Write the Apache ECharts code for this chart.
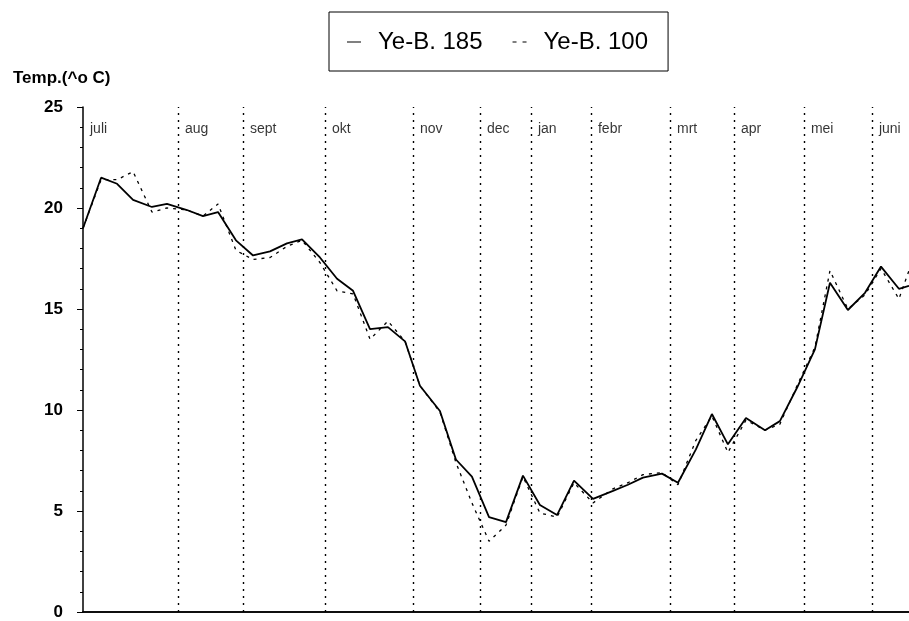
<!DOCTYPE html>
<html>
<head>
<meta charset="utf-8">
<script src="https://cdn.jsdelivr.net/npm/echarts@6/dist/echarts.min.js"></script>
<style>
  html, body { margin: 0; padding: 0; background: #fff; }
  #chart { width: 909px; height: 621px; }
</style>
</head>
<body>
<div id="chart"></div>
<script>
// tijd in weken vanaf begin juli
const weeks = [0, 1.13, 2.13, 3.13, 4.31, 5.25, 6.5, 7.5, 8.44, 9.56, 10.63, 11.69, 12.75, 13.69,
  14.81, 15.88, 16.88, 17.94, 19.06, 20.13, 21.06, 22.31, 23.31, 24.31, 25.38, 26.44, 27.5,
  28.56, 29.63, 30.69, 31.88, 33.13, 34.06, 35.0, 36.19, 37.19, 38.31, 39.31, 40.31, 41.44,
  42.63, 43.56, 44.63, 45.75, 46.69, 47.81, 48.88, 49.88, 51.0, 51.63];
// Ye-B. 185 (getrokken lijn)
const yeB185 = [19.0, 21.5, 21.2, 20.4, 20.05, 20.2, 19.9, 19.6, 19.8, 18.4, 17.65, 17.85, 18.25, 18.45,
  17.55, 16.5, 15.9, 14.0, 14.1, 13.4, 11.2, 9.95, 7.55, 6.7, 4.7, 4.45, 6.75,
  5.3, 4.8, 6.5, 5.6, 6.0, 6.3, 6.65, 6.85, 6.4, 8.05, 9.8, 8.3, 9.6,
  9.0, 9.45, 11.1, 13.0, 16.3, 14.95, 15.8, 17.1, 16.0, 16.15];
// Ye-B. 100 (stippellijn)
const yeB100 = [19.0, 21.4, 21.4, 21.8, 19.8, 20.0, 19.9, 19.6, 20.2, 17.9, 17.45, 17.55, 18.1, 18.4,
  17.3, 15.9, 15.75, 13.5, 14.4, 13.4, 11.2, 9.9, 7.4, 5.4, 3.5, 4.3, 6.7,
  4.9, 4.7, 6.4, 5.4, 6.1, 6.4, 6.8, 6.9, 6.3, 8.5, 9.7, 7.9, 9.5,
  9.0, 9.3, 11.2, 13.1, 16.9, 15.0, 15.7, 17.0, 15.5, 16.9];
// maanden en hun begin (weken)
const months = ['juli', 'aug', 'sept', 'okt', 'nov', 'dec', 'jan', 'febr', 'mrt', 'apr', 'mei', 'juni'];
const monthStart = [0, 5.94, 10.0, 15.13, 20.63, 24.81, 28.0, 31.75, 36.69, 40.69, 45.06, 49.31];
const yTicks = [0, 5, 10, 15, 20, 25];

const xMax = 51.63;
const chart = echarts.init(document.getElementById('chart'), null, { renderer: 'canvas' });

const pairs = arr => weeks.map((w, i) => [w, arr[i]]);

chart.setOption({
  animation: false,
  backgroundColor: '#fff',
  title: {
    text: 'Temp.(^o C)',
    left: 8, top: 65,
    textStyle: { fontFamily: 'Liberation Sans', fontSize: 17, fontWeight: 'bold', color: '#000' }
  },
  legend: {
    left: 329, top: 12,
    padding: [18, 20, 17, 18],
    borderColor: '#000', borderWidth: 1,
    itemWidth: 14, itemHeight: 2, itemGap: 30,
    textStyle: { fontFamily: 'Liberation Sans', fontSize: 24, color: '#000', padding: [0, 0, 0, 12] },
    data: [
      { name: 'Ye-B. 185', icon: 'path://M0,0h14v1h-14z' },
      { name: 'Ye-B. 100', icon: 'path://M0,0h4v1h-4zM10,0h4v1h-4z' }
    ]
  },
  grid: { left: 83, right: 0, top: 107, bottom: 9 },
  xAxis: [{
    type: 'value', min: 0, max: xMax,
    axisLine: { show: true, onZero: false, lineStyle: { color: '#000', width: 1.5 } },
    axisTick: { show: false }, axisLabel: { show: false }, splitLine: { show: false }
  }, {
    type: 'value', min: 0, max: xMax, position: 'top',
    axisLine: { show: true, lineStyle: { color: '#000', width: 1.5 } },
    axisTick: { show: false }, axisLabel: { show: false }, splitLine: { show: false }
  }],
  yAxis: {
    type: 'value', min: yTicks[0], max: yTicks[yTicks.length - 1], interval: 5,
    axisLine: { show: true, lineStyle: { color: '#000', width: 1.5 } },
    axisTick: { show: true, length: 6, lineStyle: { color: '#000' } },
    minorTick: { show: true, splitNumber: 5, length: 3, lineStyle: { color: '#000' } },
    axisLabel: { margin: 20, fontFamily: 'Liberation Sans', fontSize: 17, fontWeight: 'bold', color: '#000' },
    splitLine: { show: false }
  },
  series: [{
    name: 'Ye-B. 185', type: 'line', symbol: 'none',
    data: pairs(yeB185),
    lineStyle: { color: '#000', width: 1.8 },
    itemStyle: { color: '#000' },
    markLine: {
      silent: true, symbol: 'none', animation: false,
      label: { show: false },
      lineStyle: { color: '#000', type: [2, 5], width: 1.4 },
      data: monthStart.slice(1).map(v => ({ xAxis: v }))
    },
    z: 3
  }, {
    name: 'Ye-B. 100', type: 'line', symbol: 'none',
    data: pairs(yeB100),
    lineStyle: { color: '#000', width: 1.3, type: [3, 5] },
    itemStyle: { color: '#000' },
    z: 2
  }, {
    name: 'maanden', type: 'scatter', symbolSize: 0, silent: true,
    data: monthStart.map((v, i) => ({ value: [v, 23.9], name: months[i] })),
    label: {
      show: true, position: 'right', distance: 7, formatter: '{b}',
      fontFamily: 'Liberation Sans', fontSize: 14, color: '#000'
    }
  }]
});
</script>
</body>
</html>
